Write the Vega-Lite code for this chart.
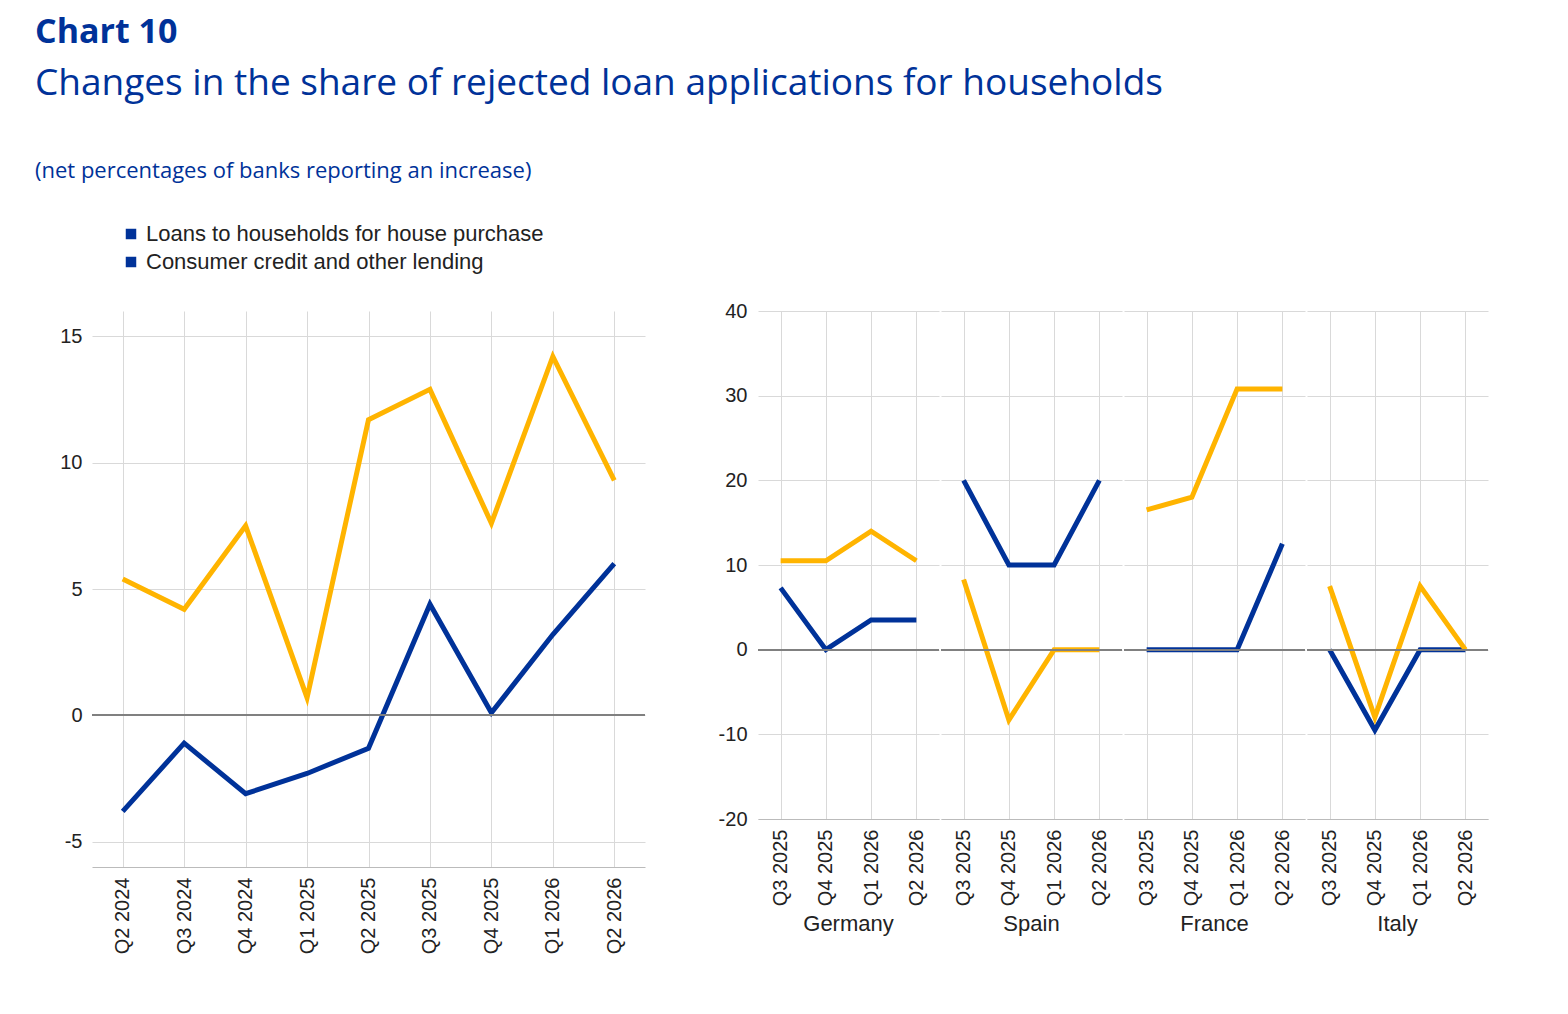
{
  "$schema": "https://vega.github.io/schema/vega-lite/v6.json",
  "background": "white",
  "padding": {"left": 35, "top": 16, "right": 20, "bottom": 10},
  "title": {
    "text": "Chart 10",
    "subtitle": ["Changes in the share of rejected loan applications for households"],
    "anchor": "start",
    "font": "Open Sans",
    "fontSize": 34,
    "fontWeight": "bold",
    "color": "#003299",
    "subtitleFont": "Open Sans",
    "subtitleFontSize": 37,
    "subtitleColor": "#003299",
    "subtitlePadding": 16,
    "offset": 58
  },
  "datasets": {
    "ea": [
      {"q": "Q2 2024", "series": "Loans to households for house purchase", "value": -3.8},
      {"q": "Q3 2024", "series": "Loans to households for house purchase", "value": -1.1},
      {"q": "Q4 2024", "series": "Loans to households for house purchase", "value": -3.1},
      {"q": "Q1 2025", "series": "Loans to households for house purchase", "value": -2.3},
      {"q": "Q2 2025", "series": "Loans to households for house purchase", "value": -1.3},
      {"q": "Q3 2025", "series": "Loans to households for house purchase", "value": 4.4},
      {"q": "Q4 2025", "series": "Loans to households for house purchase", "value": 0.1},
      {"q": "Q1 2026", "series": "Loans to households for house purchase", "value": 3.2},
      {"q": "Q2 2026", "series": "Loans to households for house purchase", "value": 6.0},
      {"q": "Q2 2024", "series": "Consumer credit and other lending", "value": 5.4},
      {"q": "Q3 2024", "series": "Consumer credit and other lending", "value": 4.2},
      {"q": "Q4 2024", "series": "Consumer credit and other lending", "value": 7.5},
      {"q": "Q1 2025", "series": "Consumer credit and other lending", "value": 0.7},
      {"q": "Q2 2025", "series": "Consumer credit and other lending", "value": 11.7},
      {"q": "Q3 2025", "series": "Consumer credit and other lending", "value": 12.9},
      {"q": "Q4 2025", "series": "Consumer credit and other lending", "value": 7.6},
      {"q": "Q1 2026", "series": "Consumer credit and other lending", "value": 14.2},
      {"q": "Q2 2026", "series": "Consumer credit and other lending", "value": 9.3}
    ],
    "countries": [
      {"country": "Germany", "q": "Q3 2025", "series": "Loans to households for house purchase", "value": 7.3},
      {"country": "Germany", "q": "Q4 2025", "series": "Loans to households for house purchase", "value": 0},
      {"country": "Germany", "q": "Q1 2026", "series": "Loans to households for house purchase", "value": 3.5},
      {"country": "Germany", "q": "Q2 2026", "series": "Loans to households for house purchase", "value": 3.5},
      {"country": "Germany", "q": "Q3 2025", "series": "Consumer credit and other lending", "value": 10.5},
      {"country": "Germany", "q": "Q4 2025", "series": "Consumer credit and other lending", "value": 10.5},
      {"country": "Germany", "q": "Q1 2026", "series": "Consumer credit and other lending", "value": 14},
      {"country": "Germany", "q": "Q2 2026", "series": "Consumer credit and other lending", "value": 10.5},
      {"country": "Spain", "q": "Q3 2025", "series": "Loans to households for house purchase", "value": 20},
      {"country": "Spain", "q": "Q4 2025", "series": "Loans to households for house purchase", "value": 10},
      {"country": "Spain", "q": "Q1 2026", "series": "Loans to households for house purchase", "value": 10},
      {"country": "Spain", "q": "Q2 2026", "series": "Loans to households for house purchase", "value": 20},
      {"country": "Spain", "q": "Q3 2025", "series": "Consumer credit and other lending", "value": 8.3},
      {"country": "Spain", "q": "Q4 2025", "series": "Consumer credit and other lending", "value": -8.3},
      {"country": "Spain", "q": "Q1 2026", "series": "Consumer credit and other lending", "value": 0},
      {"country": "Spain", "q": "Q2 2026", "series": "Consumer credit and other lending", "value": 0},
      {"country": "France", "q": "Q3 2025", "series": "Loans to households for house purchase", "value": 0},
      {"country": "France", "q": "Q4 2025", "series": "Loans to households for house purchase", "value": 0},
      {"country": "France", "q": "Q1 2026", "series": "Loans to households for house purchase", "value": 0},
      {"country": "France", "q": "Q2 2026", "series": "Loans to households for house purchase", "value": 12.5},
      {"country": "France", "q": "Q3 2025", "series": "Consumer credit and other lending", "value": 16.5},
      {"country": "France", "q": "Q4 2025", "series": "Consumer credit and other lending", "value": 18},
      {"country": "France", "q": "Q1 2026", "series": "Consumer credit and other lending", "value": 30.8},
      {"country": "France", "q": "Q2 2026", "series": "Consumer credit and other lending", "value": 30.8},
      {"country": "Italy", "q": "Q3 2025", "series": "Loans to households for house purchase", "value": 0},
      {"country": "Italy", "q": "Q4 2025", "series": "Loans to households for house purchase", "value": -9.5},
      {"country": "Italy", "q": "Q1 2026", "series": "Loans to households for house purchase", "value": 0},
      {"country": "Italy", "q": "Q2 2026", "series": "Loans to households for house purchase", "value": 0},
      {"country": "Italy", "q": "Q3 2025", "series": "Consumer credit and other lending", "value": 7.5},
      {"country": "Italy", "q": "Q4 2025", "series": "Consumer credit and other lending", "value": -8},
      {"country": "Italy", "q": "Q1 2026", "series": "Consumer credit and other lending", "value": 7.5},
      {"country": "Italy", "q": "Q2 2026", "series": "Consumer credit and other lending", "value": 0}
    ]
  },
  "hconcat": [
    {
      "width": 553,
      "height": 556,
      "title": {
        "text": "(net percentages of banks reporting an increase)",
        "anchor": "start",
        "frame": "group",
        "dx": -57,
        "offset": 128,
        "font": "Open Sans",
        "fontSize": 22,
        "fontWeight": "normal",
        "color": "#003299"
      },
      "data": {"name": "ea"},
      "layer": [
        {
          "mark": {"type": "line", "strokeWidth": 5},
          "encoding": {
            "x": {"field": "q", "type": "ordinal", "sort": null, "title": null,
              "scale": {"paddingOuter": 0.5}},
            "y": {"field": "value", "type": "quantitative", "title": null,
              "scale": {"domain": [-5, 15]}, "axis": {"values": [-5, 0, 5, 10, 15]}},
            "color": {
              "field": "series", "type": "nominal", "sort": null,
              "scale": {"domain": ["Loans to households for house purchase", "Consumer credit and other lending"], "range": ["#003299", "#ffb400"]},
              "legend": {"orient": "none", "legendX": 28, "legendY": -88, "title": null,
                "symbolType": "square", "symbolSize": 110, "symbolFillColor": null,
                "symbolStrokeWidth": 0, "labelLimit": 0, "labelFontSize": 22,
                "labelFont": "Liberation Sans", "labelColor": "#222", "rowPadding": 6}
            }
          }
        },
        {
          "mark": {"type": "rule", "color": "#808080", "strokeWidth": 1.5},
          "encoding": {"y": {"datum": 0}}
        }
      ]
    },
    {
      "data": {"name": "countries"},
      "facet": {
        "column": {"field": "country", "type": "nominal", "sort": ["Germany", "Spain", "France", "Italy"],
          "title": null,
          "header": {"labelOrient": "bottom", "labelFontSize": 22, "labelFont": "Liberation Sans", "labelColor": "#222", "labelPadding": 8}}
      },
      "spacing": 0,
      "spec": {
        "width": 181,
        "height": 508,
        "layer": [
          {
            "mark": {"type": "line", "strokeWidth": 5},
            "encoding": {
              "x": {"field": "q", "type": "ordinal", "sort": ["Q3 2025", "Q4 2025", "Q1 2026", "Q2 2026"], "title": null,
                "scale": {"paddingOuter": 0.25, "paddingInner": 0}},
              "y": {"field": "value", "type": "quantitative", "title": null,
                "scale": {"domain": [-20, 40]}, "axis": {"values": [-20, -10, 0, 10, 20, 30, 40]}},
              "color": {"field": "series", "type": "nominal", "legend": null}
            }
          },
          {
            "mark": {"type": "rule", "color": "#808080", "strokeWidth": 1.5},
            "encoding": {"y": {"datum": 0}}
          }
        ]
      },
      "resolve": {"scale": {"x": "independent"}}
    }
  ],
  "spacing": 72,
  "config": {
    "view": {"stroke": null},
    "legend": {"symbolFillColor": "#003299"},
    "axis": {
      "labelFont": "Liberation Sans", "labelFontSize": 20, "labelColor": "#222",
      "gridColor": "#d9d9d9", "domain": false, "ticks": false, "labelPadding": 10
    },
    "axisX": {"labelAngle": -90, "grid": true, "bandPosition": 0.5, "domain": true, "domainColor": "#bbb"},
    "axisY": {"grid": true, "labelExpr": "replace(datum.label, '−', '-')"}
  }
}
